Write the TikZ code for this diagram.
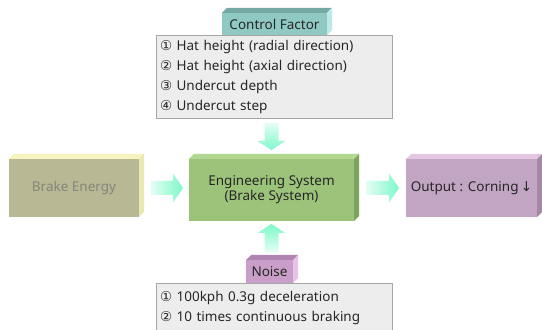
\documentclass[tikz,border=0pt]{standalone}
\usepackage{fontspec}
\setmainfont{Noto Sans}
\newfontfamily\circfont{DejaVu Sans}
\usetikzlibrary{positioning,calc}
\definecolor{boxGray}{HTML}{EDEDED}
\definecolor{boxLine}{HTML}{A6A6A6}
\definecolor{textDark}{HTML}{262626}
\definecolor{brakeFront}{HTML}{B8B894}
\definecolor{brakeTop}{HTML}{F6F3BE}
\definecolor{brakeSide}{HTML}{E9E7B2}
\definecolor{brakeText}{HTML}{85857A}
\definecolor{engFront}{HTML}{9CC37A}
\definecolor{engTop}{HTML}{B2D790}
\definecolor{engSide}{HTML}{7FA35F}
\definecolor{outFront}{HTML}{C2A5C2}
\definecolor{outTop}{HTML}{E2C6E2}
\definecolor{outSide}{HTML}{A588A5}
\definecolor{ctrlFront}{HTML}{8FC9C2}
\definecolor{ctrlTop}{HTML}{76A8A2}
\definecolor{ctrlSide}{HTML}{BCE9E5}
\definecolor{noiseFront}{HTML}{C99FC9}
\definecolor{noiseTop}{HTML}{B084B0}
\definecolor{noiseSide}{HTML}{E8C2E8}
\definecolor{mintHead}{HTML}{7DF9CB}
\definecolor{mintTail}{HTML}{E4FDF3}

\begin{document}
\begin{tikzpicture}[x=1pt, y=1pt, every node/.style={font=\fontsize{13.5}{15}\selectfont, text=textDark, outer sep=0pt, inner sep=0pt},
    flowright/.style={left color=mintTail, right color=mintHead},
    flowdown/.style={top color=mintTail, bottom color=mintHead},
    flowup/.style={bottom color=mintTail, top color=mintHead},
    listbox/.style={draw=boxLine, fill=boxGray, minimum width=236, text width=228, align=left, font=\fontsize{13.5}{20}\selectfont}]
        \clip (0,0) rectangle (542,330);
        \fill[white] (0,0) rectangle (542,330);

        % Main blocks
        \node [fill=brakeFront, text=brakeText, minimum width=130, minimum height=58] (brake) at (74,142) {Brake Energy};
        \node [fill=engFront, align=center, minimum width=165, minimum height=62] (eng) at (271.5,140) {Engineering System\\(Brake System)};
        \node [fill=outFront, minimum width=131, minimum height=58] (output) at (471.5,142) {Output : Corning\,{\circfont ↓}};

        % Factor lists
        \node [listbox, minimum height=83] (ctrl) at (274,253.5) {{\circfont ①} Hat height (radial direction)\\{\circfont ②} Hat height (axial direction)\\{\circfont ③} Undercut depth\\{\circfont ④} Undercut step};
        \node [fill=ctrlFront, minimum width=105, minimum height=22, above=0pt of ctrl, xshift=0.5pt] (ctrlTab) {Control Factor};
        \node [listbox, minimum height=50, anchor=north] (noise) at (274,47) {{\circfont ①} 100kph 0.3g deceleration\\{\circfont ②} 10 times continuous braking};
        \node [fill=noiseFront, minimum width=47, minimum height=23, above=0pt of noise, xshift=-4.5pt] (noiseTab) {Noise};

        % Depth faces
        \foreach \n/\tc/\sc in {brake/brakeTop/brakeSide, eng/engTop/engSide, output/outTop/outSide, ctrlTab/ctrlTop/ctrlSide, noiseTab/noiseTop/noiseSide} {
            \fill [\tc] (\n.north west) -- ++(5,5) -- ($(\n.north east)+(5,5)$) -- (\n.north east) -- cycle;
            \fill [\sc] (\n.north east) -- ++(5,5) -- ($(\n.south east)+(5,5)$) -- (\n.south east) -- cycle;
        }

        % Block arrows
        \shade [flowright] ($(brake.east)+(12,-7)$) -- ($(eng.west |- brake.east)+(-16,-7)$) -- ++(0,-7.5) -- ($(eng.west |- brake.east)+(-6,0)$) -- ($(eng.west |- brake.east)+(-16,14.5)$) -- ++(0,-7.5) -- ($(brake.east)+(12,7)$) -- cycle;
        \shade [flowright] ($(eng.east |- output.west)+(12,-7)$) -- ($(output.west)+(-17,-7)$) -- ++(0,-7.5) -- ($(output.west)+(-7,0)$) -- ($(output.west)+(-17,14.5)$) -- ++(0,-7.5) -- ($(eng.east |- output.west)+(12,7)$) -- cycle;
        \shade [flowdown] ($(eng.north |- ctrl.south)+(-7,-5)$) -- ($(eng.north)+(-7,18)$) -- ++(-7,0) -- ($(eng.north)+(0,9)$) -- ($(eng.north)+(14,18)$) -- ++(-7,0) -- ($(eng.north |- ctrl.south)+(7,-5)$) -- cycle;
        \shade [flowup] ($(eng.south |- noiseTab.north)+(-7,8)$) -- ($(eng.south)+(-7,-12)$) -- ++(-7,0) -- ($(eng.south)+(0,-3)$) -- ($(eng.south)+(14,-12)$) -- ++(-7,0) -- ($(eng.south |- noiseTab.north)+(7,8)$) -- cycle;
    \end{tikzpicture}
\end{document}
